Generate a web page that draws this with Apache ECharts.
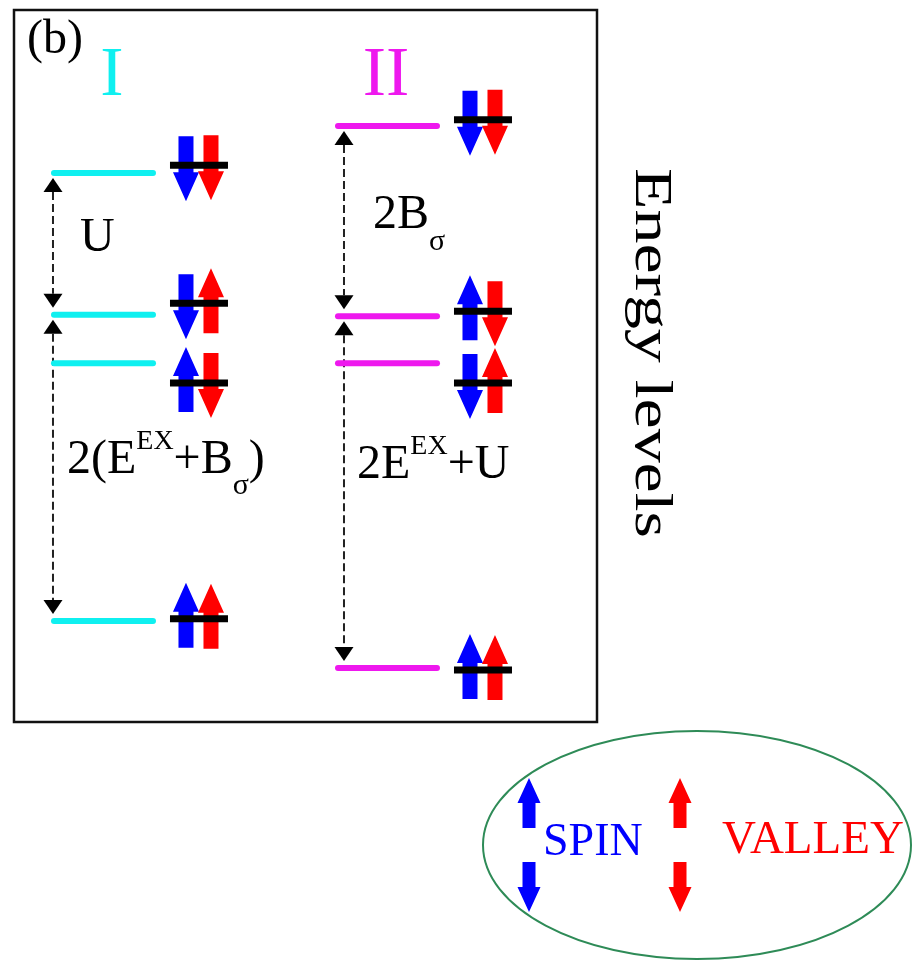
<!DOCTYPE html>
<html><head><meta charset="utf-8">
<script src="https://cdn.jsdelivr.net/npm/echarts@6/dist/echarts.min.js"></script>
<style>html,body{margin:0;padding:0;background:#fff}#c{width:912px;height:961px}</style>
</head><body><div id="c"></div>
<script>
// ---------- data ----------
const groups = ['I', 'II'];
const levelsI = [77.1, 57.2, 50.4, 14.2];
const levelsII = [83.7, 57.0, 50.4, 7.6];
const markersI = [78.2, 58.8, 47.6, 14.5];
const markersII = [84.6, 57.7, 47.6, 7.3];
const spinI = ['down', 'down', 'up', 'up'];
const valleyI = ['down', 'up', 'down', 'up'];
const spinII = ['down', 'up', 'down', 'up'];
const valleyII = ['down', 'down', 'up', 'up'];
const gapsI = [[0, 1], [1, 3]];
const gapsII = [[0, 1], [1, 3]];
const gapLabelsI = [
  [['U', '']],
  [['2(E', ''], ['EX', 'sup'], ['+B', ''], ['\u03c3', 'sub'], [')', '']]
];
const gapLabelsII = [
  [['2B', ''], ['\u03c3', 'sub']],
  [['2E', ''], ['EX', 'sup'], ['+U', '']]
];
const axisName = 'Energy levels';
const panelLabel = '(b)';
const legendSpin = 'SPIN';
const legendValley = 'VALLEY';

// ---------- styles / layout ----------
const groupColors = ['#0ff0f0', '#ee18ee'];
const BLUE = '#0000ff', RED = '#ff0000';
const FONT = '"Liberation Serif", "Times New Roman", serif';
const dashOffset = [-1, 6];
const titleDx = [58, 48];
const labelPos = [ [[26, 11], [13, 9]], [[35, 11], [19, -10]] ];

const mctx = document.createElement('canvas').getContext('2d');
function tw(t, fs) { mctx.font = fs + 'px ' + FONT; return mctx.measureText(t).width; }

function arrowPts(cx, yb, dir, sw, hw, hl, tipOff, tailOff) {
  const tip = yb - dir * tipOff, tail = yb + dir * tailOff, hb = tip + dir * hl;
  return [[cx - sw / 2, tail], [cx - sw / 2, hb], [cx - hw / 2, hb], [cx, tip],
          [cx + hw / 2, hb], [cx + sw / 2, hb], [cx + sw / 2, tail]];
}
function textEl(text, x, baseline, fs, color, align) {
  return { type: 'text', style: { text: text, x: x, y: baseline - 0.34 * fs,
    font: fs + 'px ' + FONT, fill: color, align: align || 'left', textAlign: align || 'left',
    verticalAlign: 'middle', textVerticalAlign: 'middle' } };
}

const dirNum = d => d === 'up' ? 1 : -1;
const levelData = [];
[[levelsI, markersI, spinI, valleyI], [levelsII, markersII, spinII, valleyII]].forEach((arr, g) => {
  arr[0].forEach((e, i) => levelData.push([g, e, arr[1][i], dirNum(arr[2][i]), dirNum(arr[3][i])]));
});
const gapData = [];
const levelSets = [levelsI, levelsII];
[gapsI, gapsII].forEach((arr, g) => {
  arr.forEach((p, i) => gapData.push([g, levelSets[g][p[0]], levelSets[g][p[1]], i]));
});
const gapLabels = [gapLabelsI, gapLabelsII];

function renderLevel(params, api) {
  const g = api.value(0);
  const p = api.coord([g + 1, api.value(1)]);
  const pm = api.coord([g + 1, api.value(2)]);
  const x0 = p[0], y = p[1], yb = pm[1];
  return { type: 'group', children: [
    { type: 'line', shape: { x1: x0, y1: y, x2: x0 + 99, y2: y },
      style: { stroke: groupColors[g], lineWidth: 6, lineCap: 'round' } },
    { type: 'polygon', shape: { points: arrowPts(x0 + 132, yb, api.value(3), 15, 26, 29, 36, 29) }, style: { fill: BLUE } },
    { type: 'polygon', shape: { points: arrowPts(x0 + 157, yb, api.value(4), 15, 26, 29, 35, 30) }, style: { fill: RED } },
    { type: 'rect', shape: { x: x0 + 116, y: yb - 3.5, width: 58, height: 7 }, style: { fill: '#000' } }
  ] };
}

function renderGap(params, api) {
  const g = api.value(0), li = api.value(3);
  const pu = api.coord([g + 1, api.value(1)]);
  const pl = api.coord([g + 1, api.value(2)]);
  const x0 = pu[0];
  const x = x0 + dashOffset[g];
  const tTop = pu[1] + 5, tBot = pl[1] - 7;
  const hh = 14, hw = 19;
  const children = [
    { type: 'line', shape: { x1: x, y1: tTop + hh, x2: x, y2: tBot - hh },
      style: { stroke: '#222', lineWidth: 2, lineDash: [8, 4] } },
    { type: 'polygon', shape: { points: [[x, tTop], [x - hw / 2, tTop + hh], [x + hw / 2, tTop + hh]] }, style: { fill: '#000' } },
    { type: 'polygon', shape: { points: [[x, tBot], [x - hw / 2, tBot - hh], [x + hw / 2, tBot - hh]] }, style: { fill: '#000' } }
  ];
  const parts = gapLabels[g][li];
  const lp = labelPos[g][li];
  let cx = x0 + lp[0];
  const base = (pu[1] + pl[1]) / 2 + lp[1];
  parts.forEach(pt => {
    let fs = 48, b = base;
    if (pt[1] === 'sup') { fs = 28; b = base - 26; }
    if (pt[1] === 'sub') { fs = 30; b = base + 20; }
    children.push(textEl(pt[0], cx, b, fs, '#000'));
    cx += tw(pt[0], fs);
  });
  return { type: 'group', children: children };
}

function renderTitle(params, api) {
  const g = api.value(0);
  const p = api.coord([g + 1, 100]);
  return textEl(groups[g], p[0] + titleDx[g], p[1] + 90, 70, groupColors[g], 'center');
}

function legendArrow(cx, tip, tail, dir, color) {
  const hb = tip + dir * 25;
  return { type: 'polygon', shape: { points: [[cx - 6.5, tail], [cx - 6.5, hb], [cx - 11.5, hb], [cx, tip], [cx + 11.5, hb], [cx + 6.5, hb], [cx + 6.5, tail]] },
    style: { fill: color } };
}

const chart = echarts.init(document.getElementById('c'), null, { renderer: 'canvas' });
chart.setOption({
  animation: false,
  backgroundColor: '#fff',
  grid: { left: 14, top: 10, width: 583, height: 712, show: true, borderColor: '#111', borderWidth: 2.5, backgroundColor: 'transparent' },
  xAxis: { type: 'value', min: 0.8592, max: 2.912, show: false },
  yAxis: { type: 'value', min: 0, max: 100, show: false },
  series: [
    { type: 'custom', renderItem: renderGap, data: gapData, clip: false, z: 2 },
    { type: 'custom', renderItem: renderLevel, data: levelData, clip: false, z: 3 },
    { type: 'custom', renderItem: renderTitle, data: [[0], [1]], clip: false, z: 3 }
  ],
  graphic: [
    { type: 'text', x: 27, y: 57 - 0.34 * 48, style: { text: panelLabel, font: '48px ' + FONT, fill: '#000', align: 'left', textAlign: 'left', verticalAlign: 'middle', textVerticalAlign: 'middle' } },
    { type: 'text', x: 650, y: 353, rotation: -Math.PI / 2, scaleX: 1.28, style: { text: axisName, font: '53px ' + FONT, fill: '#000', align: 'center', textAlign: 'center', verticalAlign: 'middle', textVerticalAlign: 'middle' } },
    { type: 'ellipse', shape: { cx: 697, cy: 845, rx: 214, ry: 114 }, style: { fill: 'none', stroke: '#2e8b57', lineWidth: 2 } },
    legendArrow(529, 778, 828, 1, BLUE),
    legendArrow(529, 912, 862, -1, BLUE),
    legendArrow(680, 778, 828, 1, RED),
    legendArrow(680, 912, 862, -1, RED),
    { type: 'text', x: 543, y: 859 - 0.34 * 46, style: { text: legendSpin, font: '46px ' + FONT, fill: BLUE, align: 'left', textAlign: 'left', verticalAlign: 'middle', textVerticalAlign: 'middle' } },
    { type: 'text', x: 722, y: 857 - 0.34 * 47, style: { text: legendValley, font: '47px ' + FONT, fill: RED, align: 'left', textAlign: 'left', verticalAlign: 'middle', textVerticalAlign: 'middle' } }
  ]
});
</script></body></html>
